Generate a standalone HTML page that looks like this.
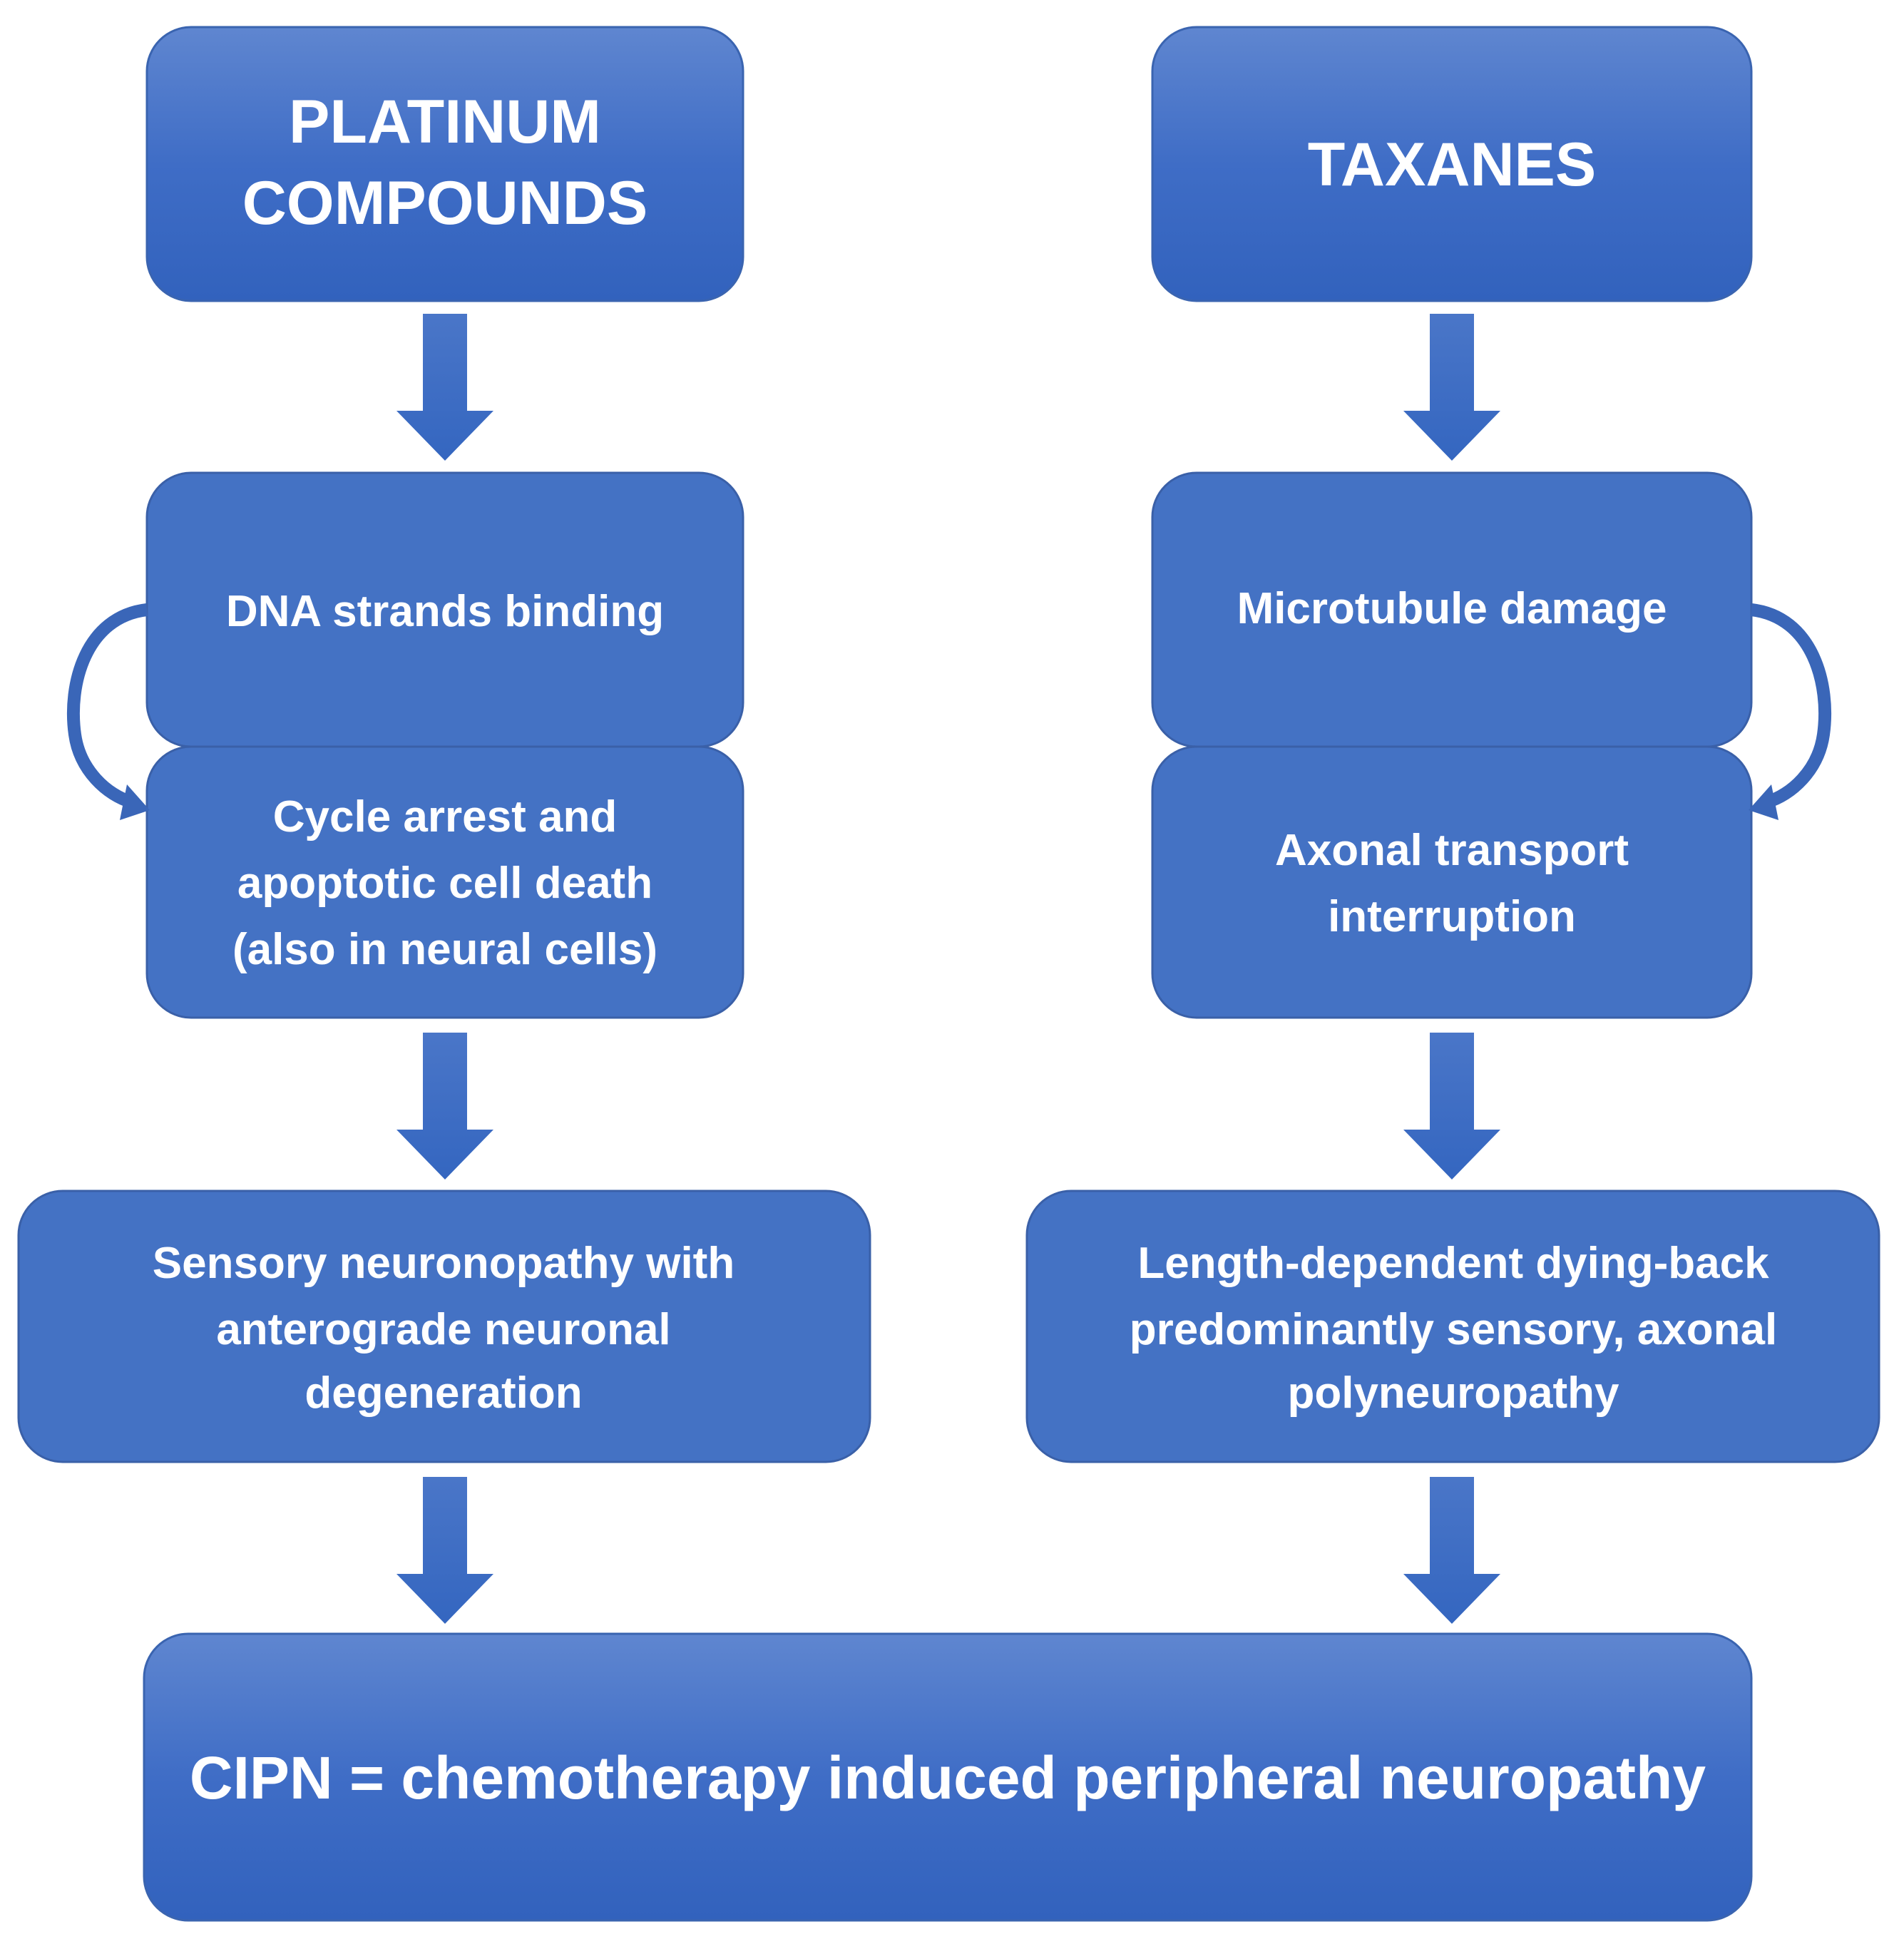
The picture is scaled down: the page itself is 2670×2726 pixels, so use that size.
<!DOCTYPE html>
<html><head><meta charset="utf-8"><style>
html,body{margin:0;padding:0;background:#fff}
svg{display:block}
text{font-family:"Liberation Sans",sans-serif;font-weight:bold;fill:#fff;text-anchor:middle}
</style></head><body>
<svg width="2670" height="2726" viewBox="0 0 2670 2726" xmlns="http://www.w3.org/2000/svg">
<defs>
<linearGradient id="g" x1="0" y1="0" x2="0" y2="1">
<stop offset="0" stop-color="#5f86d0"/><stop offset="0.5" stop-color="#3f6dc6"/><stop offset="1" stop-color="#3262bd"/>
</linearGradient>
<linearGradient id="ga" x1="0" y1="0" x2="0" y2="1">
<stop offset="0" stop-color="#4a76c8"/><stop offset="1" stop-color="#3466c0"/>
</linearGradient>
<g id="arr"><path d="M-31 0 H31 V136 H68 L0 206 L-68 136 H-31 Z" fill="url(#ga)"/></g>
</defs>
<rect x="206" y="38" width="836" height="384" rx="62" fill="url(#g)" stroke="#3a64b0" stroke-width="3"/>
<rect x="1616" y="38" width="840" height="384" rx="62" fill="url(#g)" stroke="#3a64b0" stroke-width="3"/>
<text x="624" y="200" font-size="86">PLATINUM</text>
<text x="624" y="314" font-size="86">COMPOUNDS</text>
<text x="2036" y="260" font-size="86">TAXANES</text>
<use href="#arr" x="624" y="440"/>
<use href="#arr" x="2036" y="440"/>
<rect x="206" y="663" width="836" height="384" rx="62" fill="#4472c4" stroke="#3a60a8" stroke-width="3"/>
<rect x="206" y="1047" width="836" height="380" rx="62" fill="#4472c4" stroke="#3a60a8" stroke-width="3"/>
<rect x="1616" y="663" width="840" height="384" rx="62" fill="#4472c4" stroke="#3a60a8" stroke-width="3"/>
<rect x="1616" y="1047" width="840" height="380" rx="62" fill="#4472c4" stroke="#3a60a8" stroke-width="3"/>
<text x="624" y="878" font-size="62">DNA strands binding</text>
<text x="624" y="1166" font-size="62">Cycle arrest and</text>
<text x="624" y="1259" font-size="62">apoptotic cell death</text>
<text x="624" y="1352" font-size="62">(also in neural cells)</text>
<text x="2036" y="874" font-size="62">Microtubule damage</text>
<text x="2036" y="1213" font-size="62">Axonal transport</text>
<text x="2036" y="1306" font-size="62">interruption</text>
<path d="M206 855 C120 865 95 960 105 1030 C112 1080 150 1115 185 1125" fill="none" stroke="#3a66b8" stroke-width="18"/>
<path d="M178 1100 L210 1136 L168 1150 Z" fill="#3a66b8"/>
<path d="M2456 855 C2542 865 2567 960 2557 1030 C2550 1080 2512 1115 2477 1125" fill="none" stroke="#3a66b8" stroke-width="18"/>
<path d="M2484 1100 L2452 1136 L2494 1150 Z" fill="#3a66b8"/>
<use href="#arr" x="624" y="1448"/>
<use href="#arr" x="2036" y="1448"/>
<rect x="26" y="1670" width="1194" height="380" rx="62" fill="#4472c4" stroke="#3a60a8" stroke-width="3"/>
<rect x="1440" y="1670" width="1195" height="380" rx="62" fill="#4472c4" stroke="#3a60a8" stroke-width="3"/>
<text x="622" y="1792" font-size="62">Sensory neuronopathy with</text>
<text x="622" y="1885" font-size="62">anterograde neuronal</text>
<text x="622" y="1974" font-size="62">degeneration</text>
<text x="2038" y="1792" font-size="62">Length-dependent dying-back</text>
<text x="2038" y="1885" font-size="62">predominantly sensory, axonal</text>
<text x="2038" y="1974" font-size="62">polyneuropathy</text>
<use href="#arr" x="624" y="2071"/>
<use href="#arr" x="2036" y="2071"/>
<rect x="202" y="2291" width="2254" height="402" rx="62" fill="url(#g)" stroke="#3a64b0" stroke-width="3"/>
<text x="1329" y="2522" font-size="84">CIPN = chemotherapy induced peripheral neuropathy</text>
</svg>
</body></html>
